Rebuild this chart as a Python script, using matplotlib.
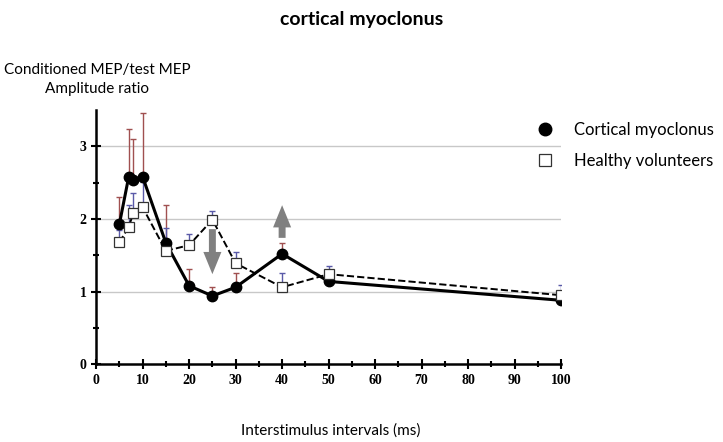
import numpy as np
import matplotlib
matplotlib.use("Agg")
import matplotlib.pyplot as plt

# interstimulus intervals (ms)
isi = [5, 7, 8, 10, 15, 20, 25, 30, 40, 50, 100]

# conditioned MEP / test MEP amplitude ratio
cortical = [1.93, 2.58, 2.54, 2.58, 1.67, 1.08, 0.94, 1.06, 1.52, 1.14, 0.88]
cortical_err = [0.37, 0.66, 0.56, 0.88, 0.52, 0.23, 0.12, 0.19, 0.15, 0.0, 0.0]
healthy = [1.68, 1.89, 2.08, 2.16, 1.56, 1.64, 1.99, 1.39, 1.06, 1.24, 0.95]
healthy_err = [0.17, 0.30, 0.28, 0.35, 0.31, 0.16, 0.12, 0.16, 0.20, 0.11, 0.14]

sans = ["Lato", "DejaVu Sans"]
serif = ["Liberation Serif", "DejaVu Serif"]

fig = plt.figure(figsize=(7.23, 4.42), dpi=100)
ax = fig.add_axes([0.133, 0.176, 0.643, 0.575])

for y in [1, 2, 3]:
    ax.axhline(y, color="#c8c8c8", lw=1, zorder=0)

ax.errorbar(isi, cortical, yerr=[np.zeros(len(isi)), cortical_err], fmt="none",
            ecolor="#a05050", elinewidth=1, capsize=2.5, capthick=1, zorder=1)
ax.errorbar(isi, healthy, yerr=[np.zeros(len(isi)), healthy_err], fmt="none",
            ecolor="#5a5aa8", elinewidth=1, capsize=2.5, capthick=1, zorder=1)

ax.plot(isi, cortical, "-o", color="black", lw=2.2, ms=7.5, zorder=3,
        label="Cortical myoclonus")
ax.plot(isi, healthy, "--s", color="black", lw=1.4, ms=7, mfc="white",
        mec="#333333", mew=0.9, zorder=4, label="Healthy volunteers")

# gray arrows
arrow = dict(facecolor="#808080", edgecolor="none", width=5,
             headwidth=13, headlength=16)
ax.annotate("", xy=(25, 1.24), xytext=(25, 1.86), arrowprops=arrow, zorder=5)
ax.annotate("", xy=(40, 2.19), xytext=(40, 1.74), arrowprops=arrow, zorder=5)

ax.set_xlim(0, 100)
ax.set_ylim(0, 3.5)
ax.set_xticks(range(0, 101, 10))
ax.set_xticks(range(0, 101, 5), minor=True)
ax.set_yticks([0, 1, 2, 3])
ax.set_yticks([0.5, 1.5, 2.5], minor=True)
ax.tick_params(which="both", direction="inout", width=1.5, colors="black")
ax.tick_params(which="major", length=7)
ax.tick_params(which="minor", length=4)
for lab in ax.get_xticklabels() + ax.get_yticklabels():
    lab.set_fontfamily(serif)
    lab.set_fontweight("bold")
    lab.set_fontsize(10)
ax.spines["top"].set_visible(False)
ax.spines["right"].set_visible(False)
ax.spines["left"].set_linewidth(1.8)
ax.spines["bottom"].set_linewidth(1.8)

leg = ax.legend(loc="upper left", bbox_to_anchor=(0.916, 1.012), frameon=False,
                prop={"family": sans, "size": 12}, labelspacing=0.9,
                handlelength=1.0, handletextpad=1.2)
for h in leg.legend_handles:
    h.set_linestyle("none")
    h.set_markersize(9)

fig.text(0.5, 0.955, "cortical myoclonus", ha="center", va="center",
         fontsize=14, fontweight="bold", family=sans)
fig.text(0.134, 0.82, "Conditioned MEP/test MEP\nAmplitude ratio", ha="center",
         va="center", fontsize=11, family=sans, linespacing=1.4)
fig.text(0.457, 0.027, "Interstimulus intervals (ms)", ha="center", va="center",
         fontsize=11, family=sans)

fig.savefig("out.png", dpi=100)
